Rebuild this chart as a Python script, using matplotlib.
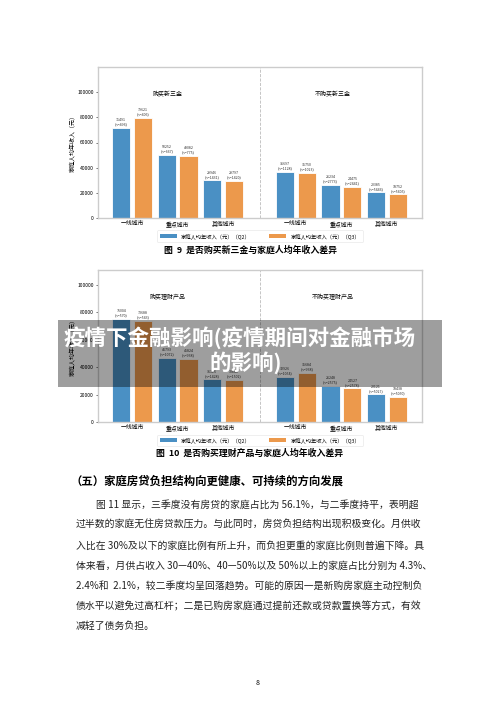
import matplotlib.pyplot as plt
from matplotlib.patches import Rectangle, Patch
import numpy as np

plt.rcParams['font.family'] = ['Noto Sans CJK SC', 'DejaVu Sans']

cities = ['一线城市', '重点城市', '其他城市']
legend_labels = ['家庭人均年收入（元）（Q2）', '家庭人均年收入（元）（Q3）']

# figure 9: 是否购买新三金
sanjin_titles = ['购买新三金', '不购买新三金']
sanjin_buy_q2 = [71491, 50252, 29946]
sanjin_buy_q2_n = [496, 667, 1431]
sanjin_buy_q3 = [79621, 49082, 29797]
sanjin_buy_q3_n = [406, 775, 1420]
sanjin_no_q2 = [36697, 26234, 20385]
sanjin_no_q2_n = [1128, 2773, 5446]
sanjin_no_q3 = [35750, 24475, 18752]
sanjin_no_q3_n = [1023, 2441, 5405]

# figure 10: 是否购买理财产品
licai_titles = ['购买理财产品', '不购买理财产品']
licai_buy_q2 = [75004, 46793, 31126]
licai_buy_q2_n = [570, 1072, 1428]
licai_buy_q3 = [73688, 45824, 30848]
licai_buy_q3_n = [543, 938, 1502]
licai_no_q2 = [32926, 26248, 20121]
licai_no_q2_n = [1054, 2575, 5027]
licai_no_q3 = [35684, 24527, 18438]
licai_no_q3_n = [938, 2578, 5050]

heading = '（五）家庭房贷负担结构向更健康、可持续的方向发展'
body = [
    '图 11 显示，三季度没有房贷的家庭占比为 56.1%，与二季度持平，表明超',
    '过半数的家庭无住房贷款压力。与此同时，房贷负担结构出现积极变化。月供收',
    '入比在 30%及以下的家庭比例有所上升，而负担更重的家庭比例则普遍下降。具',
    '体来看，月供占收入 30—40%、40—50%以及 50%以上的家庭占比分别为 4.3%、',
    '2.4%和  2.1%，较二季度均呈回落趋势。可能的原因一是新购房家庭主动控制负',
    '债水平以避免过高杠杆；二是已购房家庭通过提前还款或贷款置换等方式，有效',
    '减轻了债务负担。',
]
banner = ['疫情下金融影响(疫情期间对金融市场', '的影响)']

BLUE = '#4a90c4'
ORANGE = '#ec994c'
W, H = 500, 707


def box(left, top, right, bottom):
    return [left / W, 1 - bottom / H, (right - left) / W, (bottom - top) / H]


def draw_chart(ax, titles, b2, b2n, b3, b3n, n2, n2n, n3, n3n, ymax, title_y):
    pos_left = np.array([0, 1, 2])
    pos_right = pos_left + 3.6
    bw = 0.4
    off = 0.24
    for pos, q2, q2n, q3, q3n in [(pos_left, b2, b2n, b3, b3n),
                                  (pos_right, n2, n2n, n3, n3n)]:
        r2 = ax.bar(pos - off, q2, bw, color=BLUE, edgecolor='white', linewidth=0.6)
        r3 = ax.bar(pos + off, q3, bw, color=ORANGE, edgecolor='white', linewidth=0.6)
        for rects, vals, ns in [(r2, q2, q2n), (r3, q3, q3n)]:
            for r, v, n in zip(rects, vals, ns):
                ax.text(r.get_x() + r.get_width() / 2, v + ymax * 0.01,
                        f'{v}\n(n={n})', ha='center', va='bottom',
                        fontsize=2.6, color='#333333', linespacing=1.1)
    ax.axvline(2.8, color='#bbbbbb', linestyle='--', linewidth=0.6)
    ax.text(0.78, title_y, titles[0], ha='center', va='center', fontsize=4.3)
    ax.text(4.4, title_y, titles[1], ha='center', va='center', fontsize=4.3)
    ax.set_xticks(list(pos_left) + list(pos_right))
    ax.set_xticklabels(cities * 2, fontsize=4.2)
    ax.set_xlim(-0.75, 6.37)
    ax.set_ylim(0, ymax)
    ax.set_yticks(np.arange(0, 100001, 20000))
    ax.tick_params(axis='y', labelsize=3.6, length=1.5, width=0.4, pad=1.5)
    ax.tick_params(axis='x', length=0, pad=2)
    ax.set_ylabel('家庭人均年收入（元）', fontsize=4.3, labelpad=1)
    for s in ax.spines.values():
        s.set_color('#cccccc')
        s.set_linewidth(1.0)
    handles = [Patch(facecolor=BLUE), Patch(facecolor=ORANGE)]
    leg = ax.legend(handles, legend_labels, loc='upper center',
                    bbox_to_anchor=(0.5, -0.065), ncol=2, fontsize=3.8,
                    frameon=True, handlelength=3.2, handleheight=0.9,
                    columnspacing=3.5, borderpad=0.5)
    leg.get_frame().set_linewidth(0.4)
    leg.get_frame().set_edgecolor('#dddddd')


fig = plt.figure(figsize=(5, 7.07), dpi=100)

ax1 = fig.add_axes(box(98, 67, 422, 218))
draw_chart(ax1, sanjin_titles, sanjin_buy_q2, sanjin_buy_q2_n, sanjin_buy_q3,
           sanjin_buy_q3_n, sanjin_no_q2, sanjin_no_q2_n, sanjin_no_q3,
           sanjin_no_q3_n, 120000, 98500)
fig.text(250 / W, 1 - 250 / H, '图  9  是否购买新三金与家庭人均年收入差异',
         ha='center', va='center', fontsize=6.4, fontweight='bold')

ax2 = fig.add_axes(box(98, 270, 422, 422))
draw_chart(ax2, licai_titles, licai_buy_q2, licai_buy_q2_n, licai_buy_q3,
           licai_buy_q3_n, licai_no_q2, licai_no_q2_n, licai_no_q3,
           licai_no_q3_n, 111000, 91000)
fig.text(250 / W, 1 - 453 / H, '图  10  是否购买理财产品与家庭人均年收入差异',
         ha='center', va='center', fontsize=6.4, fontweight='bold')

fig.text(70 / W, 1 - 481 / H, heading, ha='left', va='center',
         fontsize=8.2, fontweight='bold')
for i, line in enumerate(body):
    x = 96 if i == 0 else 76
    fig.text(x / W, 1 - (505 + i * 20.2) / H, line, ha='left', va='center',
             fontsize=7.1, color='#222222')
fig.text(258 / W, 1 - 683 / H, '8', ha='center', va='center', fontsize=5)

fig.patches.append(Rectangle((58 / W, 1 - 387 / H), 384 / W, 67 / H,
                             transform=fig.transFigure, facecolor='black',
                             alpha=0.38, edgecolor='none', zorder=10))
fig.text(240 / W, 1 - 338 / H, banner[0], ha='center', va='center',
         fontsize=15.5, fontweight='bold', color='white', zorder=11)
fig.text(246 / W, 1 - 363 / H, banner[1], ha='center', va='center',
         fontsize=15.5, fontweight='bold', color='white', zorder=11)

fig.savefig('out.png', dpi=100, facecolor='white')
